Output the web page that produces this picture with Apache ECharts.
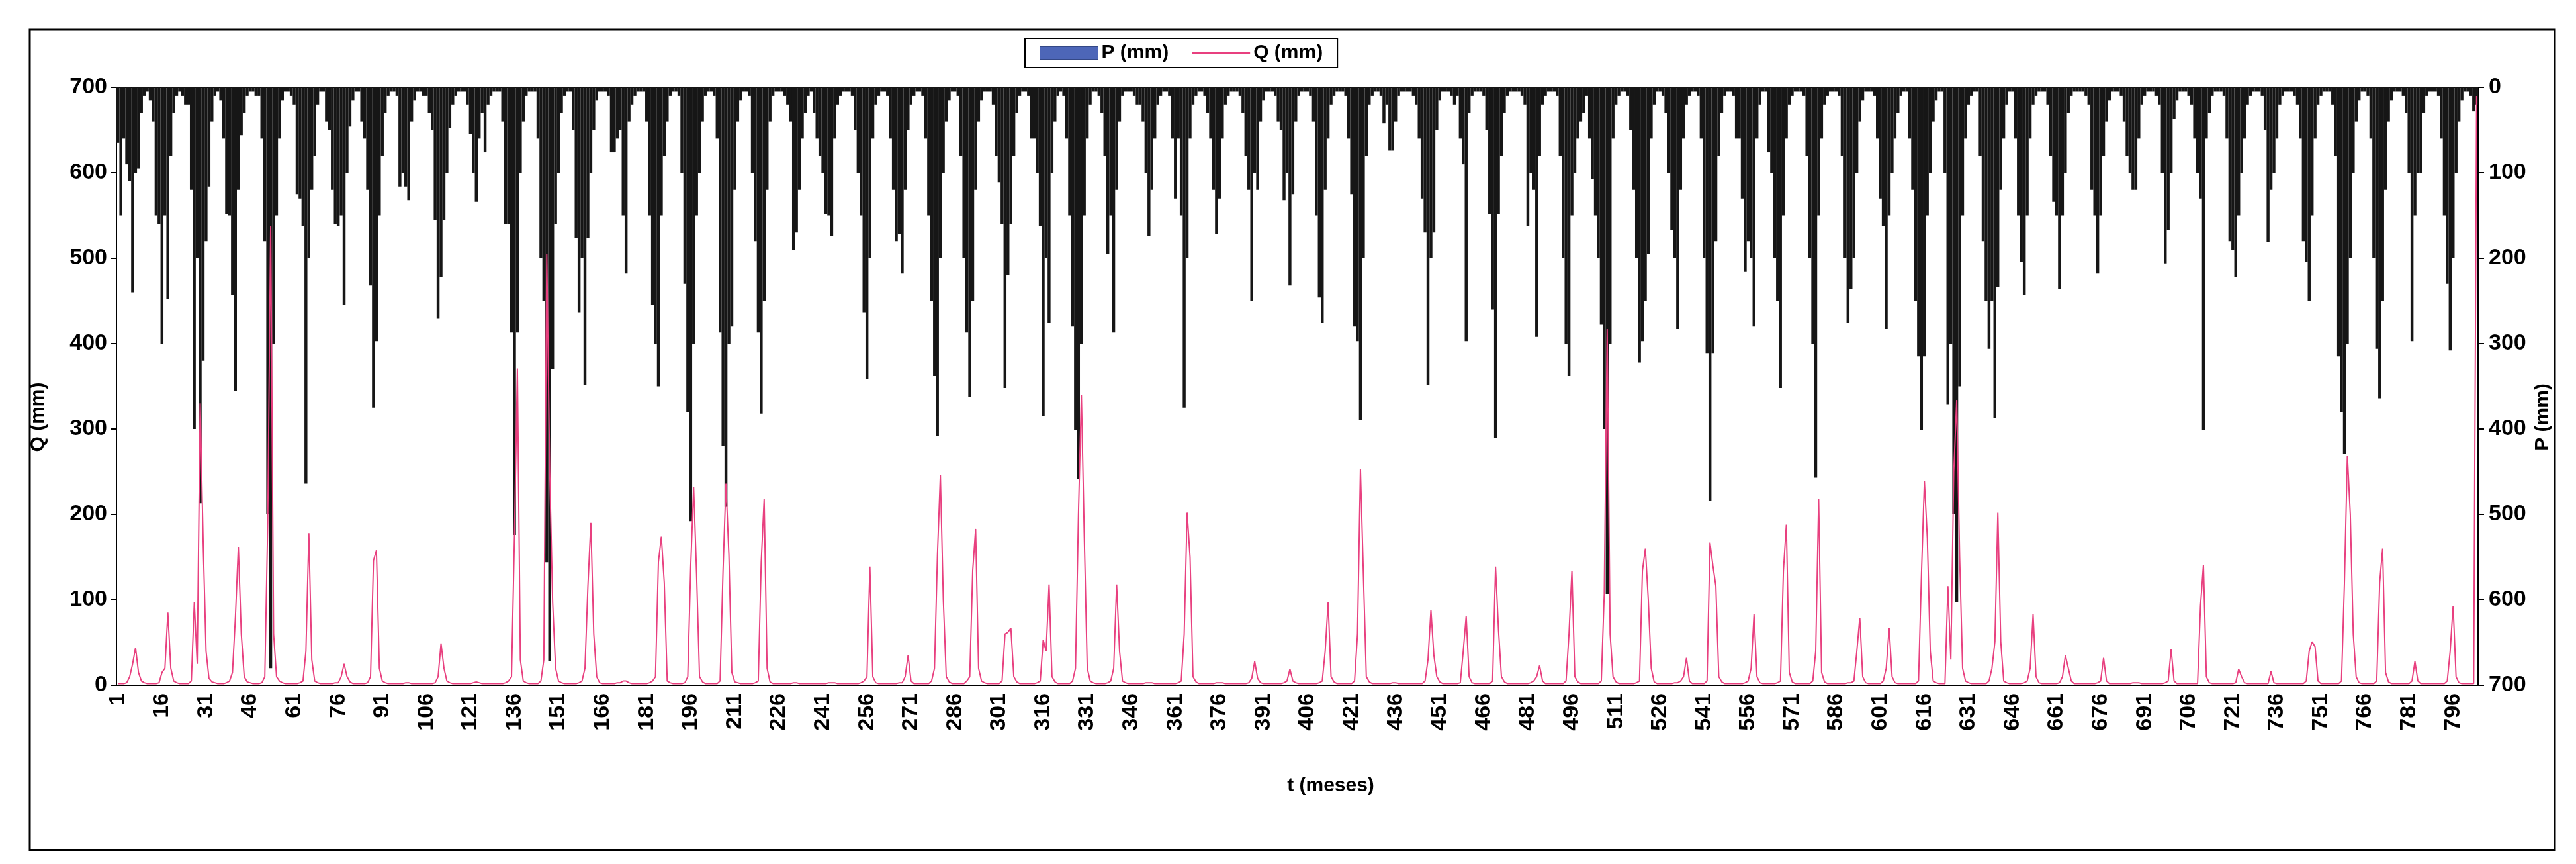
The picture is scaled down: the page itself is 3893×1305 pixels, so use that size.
<!DOCTYPE html>
<html>
<head>
<meta charset="utf-8">
<script src="https://cdn.jsdelivr.net/npm/echarts@6/dist/echarts.min.js"></script>
<style>html,body{margin:0;padding:0;background:#fff}#c{width:3893px;height:1305px}</style>
</head>
<body>
<div id="c"></div>
<script>
// Monthly precipitation P (mm), one row per year (12 months)
const precipP = [
65,150,60,90,110,240,100,95,30,10,5,15,
40,150,160,300,150,248,80,30,10,5,10,20,
20,120,400,200,487,320,180,116,40,10,5,15,
60,148,150,243,355,120,56,30,10,5,5,10,
10,60,180,500,680,300,150,60,15,5,5,10,
20,125,130,162,464,200,120,80,20,5,5,40,
50,120,160,162,150,255,100,46,15,5,5,40,
60,120,232,375,297,150,80,30,10,5,5,10,
116,100,116,132,40,15,5,5,10,10,30,50,
155,271,222,155,100,48,20,10,5,5,5,20,
55,100,134,60,30,76,20,10,5,5,5,40,
160,160,287,524,287,100,40,10,5,5,5,60,
200,250,556,672,330,160,100,30,10,5,5,50,
176,264,200,348,176,100,50,15,5,5,5,10,
76,76,60,50,150,218,40,20,10,5,5,5,
40,150,255,300,350,150,80,40,10,5,5,10,
100,230,380,508,300,150,100,40,10,5,5,10,
60,287,420,491,300,280,120,40,15,5,5,10,
100,180,287,382,250,120,40,10,5,5,5,10,
20,40,190,170,120,60,30,10,5,30,60,80,
100,148,150,174,60,20,10,5,5,5,10,50,
100,150,264,341,200,60,20,10,5,5,10,60,
120,180,172,218,120,50,20,10,5,5,10,60,
150,250,338,408,200,100,40,15,5,5,10,80,
200,287,362,250,120,40,15,5,5,5,20,80,
111,160,352,220,160,80,30,10,5,5,10,60,
60,100,162,385,200,276,100,40,10,5,10,60,
150,280,401,459,300,150,60,20,5,5,10,30,
80,195,150,287,120,40,10,5,5,5,10,20,
20,40,100,174,120,60,20,10,5,5,10,60,
130,60,150,375,200,60,20,10,5,5,10,30,
60,120,172,130,60,20,10,5,5,5,10,30,
80,120,250,100,120,40,15,5,5,5,10,40,
50,132,100,232,125,40,10,5,5,5,10,40,
150,246,276,120,60,20,10,5,5,5,10,60,
125,280,297,390,200,80,20,10,5,5,10,42,
20,74,74,40,10,5,5,5,5,10,20,60,
130,170,348,200,170,50,15,5,5,5,10,20,
10,60,90,297,30,10,5,5,5,10,50,148,
260,410,148,80,30,10,5,5,5,5,10,20,
162,100,120,292,80,20,10,5,5,5,10,80,
200,300,338,150,100,60,40,30,10,60,107,150,
200,278,400,593,300,60,20,10,5,5,10,50,
120,200,322,297,250,195,60,20,5,5,10,30,
100,167,200,283,120,60,20,10,5,5,10,60,
200,311,484,311,180,80,30,10,5,5,10,60,
60,130,216,180,200,280,60,20,5,5,76,100,
200,250,352,150,60,20,10,5,5,5,10,80,
200,300,457,150,60,20,10,5,5,5,10,80,
200,276,236,200,100,40,15,5,5,5,10,60,
130,162,283,150,100,60,30,10,5,5,60,120,
250,315,401,315,150,100,40,15,5,5,100,371,
300,500,603,350,150,60,20,10,5,5,80,180,
250,306,250,387,234,120,60,20,5,5,60,150,
204,243,150,60,20,10,5,5,5,20,80,134,
150,236,150,100,30,10,5,5,5,5,10,20,
120,150,218,150,80,40,15,5,5,5,10,40,
80,100,120,120,60,20,10,5,5,5,10,20,
100,206,167,100,37,15,5,5,5,10,20,60,
100,130,401,60,30,10,5,5,5,10,60,180,
190,222,150,100,60,20,10,5,5,5,10,50,
181,120,100,60,20,10,5,5,5,10,20,60,
180,204,250,150,60,20,10,5,5,5,20,80,
315,380,429,300,200,100,40,15,5,5,10,60,
200,306,364,250,120,40,15,5,5,5,10,30,
100,297,150,100,100,30,10,5,5,5,10,60,
150,230,308,200,100,40,15,5,5,10,28,20
];

// Monthly runoff Q (mm), one row per year (12 months)
const runoffQ = [
2,2,2,3,10,25,44,15,5,3,2,2,
2,2,3,15,20,85,20,5,3,2,2,2,
2,5,97,25,330,170,40,8,4,3,2,2,
2,3,5,15,80,162,60,10,4,3,2,2,
2,3,10,190,538,60,10,5,3,2,2,2,
2,2,3,5,40,178,30,5,3,2,2,2,
2,2,3,3,10,25,10,4,2,2,2,2,
2,3,10,146,158,20,5,3,2,2,2,2,
2,2,3,3,2,2,2,2,2,2,2,2,
3,10,49,20,5,3,2,2,2,2,2,2,
2,3,4,3,2,2,2,2,2,2,2,2,
3,5,10,176,371,30,5,3,2,2,2,2,
5,30,505,250,97,20,5,3,2,2,2,2,
2,3,5,20,116,190,60,10,3,2,2,2,
2,2,3,3,5,5,3,2,2,2,2,2,
2,3,5,10,144,174,120,5,3,2,2,2,
2,3,10,139,232,130,10,4,2,2,2,2,
2,5,134,236,153,15,4,3,2,2,2,2,
2,3,5,144,218,20,4,2,2,2,2,2,
2,2,3,3,2,2,2,2,2,2,2,2,
2,2,3,3,3,2,2,2,2,2,2,2,
2,3,5,10,139,10,3,2,2,2,2,2,
2,2,3,3,10,35,5,2,2,2,2,2,
2,5,20,153,246,100,10,4,2,2,2,2,
2,5,10,134,183,20,5,3,2,2,2,2,
2,5,60,62,67,10,4,2,2,2,2,2,
2,3,5,53,40,118,10,4,2,2,2,2,
2,5,20,200,340,172,20,5,3,2,2,2,
2,3,5,20,118,40,5,3,2,2,2,2,
2,2,3,3,3,2,2,2,2,2,2,2,
2,3,5,60,202,150,10,4,2,2,2,2,
2,2,3,3,3,2,2,2,2,2,2,2,
2,3,8,28,8,3,2,2,2,2,2,2,
2,3,5,19,5,3,2,2,2,2,2,2,
2,3,5,40,97,10,4,2,2,2,2,2,
2,5,60,253,130,10,4,2,2,2,2,2,
2,2,3,3,2,2,2,2,2,2,2,2,
2,5,30,88,35,10,4,2,2,2,2,2,
2,3,40,81,10,3,2,2,2,2,2,2,
5,139,65,10,4,2,2,2,2,2,2,2,
2,3,5,10,23,5,2,2,2,2,2,2,
2,5,60,134,10,4,2,2,2,2,2,2,
2,5,107,417,60,10,4,2,2,2,2,2,
2,3,5,134,160,100,20,4,2,2,2,2,
2,2,3,3,5,10,32,5,2,2,2,2,
2,5,167,140,116,10,4,2,2,2,2,2,
2,2,3,5,20,83,10,3,2,2,2,2,
2,3,5,134,188,15,4,2,2,2,2,2,
2,5,40,218,15,4,2,2,2,2,2,2,
2,3,3,5,40,79,10,3,2,2,2,2,
2,5,20,67,10,3,2,2,2,2,2,2,
2,5,130,239,172,40,5,3,2,2,2,116,
30,250,334,150,20,5,3,2,2,2,2,2,
2,5,20,51,202,51,5,3,2,2,2,2,
2,3,5,20,83,10,3,2,2,2,2,2,
2,3,10,35,20,5,2,2,2,2,2,2,
2,2,3,5,32,5,2,2,2,2,2,2,
2,2,3,3,3,2,2,2,2,2,2,2,
2,3,5,42,5,2,2,2,2,2,2,2,
2,93,141,10,3,2,2,2,2,2,2,2,
2,3,19,10,3,2,2,2,2,2,2,2,
2,16,3,2,2,2,2,2,2,2,2,2,
2,5,40,51,45,5,2,2,2,2,2,2,
2,5,120,269,200,60,10,3,2,2,2,2,
2,5,120,160,15,4,2,2,2,2,2,2,
2,5,28,5,2,2,2,2,2,2,2,2,
2,5,40,93,10,3,2,2,2,2,2,690
];

// Month index labels (t, meses)
const months = precipP.map((_, i) => String(i + 1));
const axisTicks = [0, 100, 200, 300, 400, 500, 600, 700];

const FONT = '"Liberation Sans", Arial, sans-serif';
const chart = echarts.init(document.getElementById('c'), null, {renderer: 'canvas'});

const option = {
  animation: false,
  backgroundColor: '#ffffff',
  grid: {left: 176, right: 148, top: 132, bottom: 270, show: true, borderColor: '#000', borderWidth: 2, containLabel: false},
  legend: {
    left: 1549, top: 58,
    padding: [7, 22],
    itemGap: 34,
    itemWidth: 88, itemHeight: 20,
    borderColor: '#000', borderWidth: 2,
    backgroundColor: '#fff',
    textStyle: {fontFamily: FONT, fontSize: 30, fontWeight: 'bold', color: '#000'},
    data: [
      {name: 'P (mm)', icon: 'rect', itemStyle: {color: '#4d66b8', borderColor: '#1d2a55', borderWidth: 1}},
      {name: 'Q (mm)', itemStyle: {color: 'rgba(0,0,0,0)', borderColor: 'rgba(0,0,0,0)', borderWidth: 0}, lineStyle: {color: '#e8407f', width: 2}}
    ]
  },
  xAxis: [{
    type: 'category', data: months, boundaryGap: true,
    axisLine: {lineStyle: {color: '#000', width: 2}},
    axisTick: {interval: 0, length: 7, lineStyle: {color: '#000', width: 1}},
    axisLabel: {interval: 14, rotate: 90, fontFamily: FONT, fontSize: 34, fontWeight: 'bold', color: '#000', margin: 12},
    splitLine: {show: false}
  }, {
    type: 'category', data: months, boundaryGap: true, position: 'bottom', offset: 0,
    axisLine: {show: false},
    axisTick: {interval: 0, inside: true, length: 7, lineStyle: {color: '#000', width: 1}},
    axisLabel: {show: false},
    splitLine: {show: false}
  }],
  yAxis: [{
    type: 'value', position: 'left', min: 0, max: 700, interval: 100,
    axisLine: {show: true, lineStyle: {color: '#000', width: 2}},
    axisTick: {show: true, length: 9, lineStyle: {color: '#000', width: 2}},
    axisLabel: {fontFamily: FONT, fontSize: 34, fontWeight: 'bold', color: '#000', margin: 14,
      formatter: v => axisTicks.includes(v) ? String(v) : ''},
    splitLine: {show: false}
  }, {
    type: 'value', position: 'right', inverse: true, min: 0, max: 700, interval: 100,
    axisLine: {show: true, lineStyle: {color: '#000', width: 2}},
    axisTick: {show: true, length: 9, lineStyle: {color: '#000', width: 2}},
    axisLabel: {fontFamily: FONT, fontSize: 34, fontWeight: 'bold', color: '#000', margin: 16,
      formatter: v => axisTicks.includes(v) ? String(v) : ''},
    splitLine: {show: false}
  }],
  series: [{
    name: 'P (mm)', type: 'bar', xAxisIndex: 0, yAxisIndex: 1, data: precipP,
    barCategoryGap: '0%',
    itemStyle: {color: '#161616'}
  }, {
    name: 'Q (mm)', type: 'line', xAxisIndex: 0, yAxisIndex: 0, data: runoffQ,
    symbol: 'none', showSymbol: false,
    lineStyle: {color: '#e8407f', width: 2},
    itemStyle: {color: '#e8407f'}
  }],
  graphic: [
    {type: 'rect', shape: {x: 45, y: 45, width: 3816, height: 1239}, style: {fill: null, stroke: '#000', lineWidth: 3}, silent: true, z: -1},
    {type: 'text', x: 2011, y: 1187, style: {text: 't (meses)', font: 'bold 30px ' + FONT, fill: '#000', textAlign: 'center', textVerticalAlign: 'middle'}},
    {type: 'text', x: 58, y: 630, rotation: Math.PI / 2, style: {text: 'Q (mm)', font: 'bold 30px ' + FONT, fill: '#000', textAlign: 'center', textVerticalAlign: 'middle'}},
    {type: 'text', x: 3843, y: 630, rotation: Math.PI / 2, style: {text: 'P (mm)', font: 'bold 30px ' + FONT, fill: '#000', textAlign: 'center', textVerticalAlign: 'middle'}}
  ]
};
chart.setOption(option);
</script>
</body>
</html>
